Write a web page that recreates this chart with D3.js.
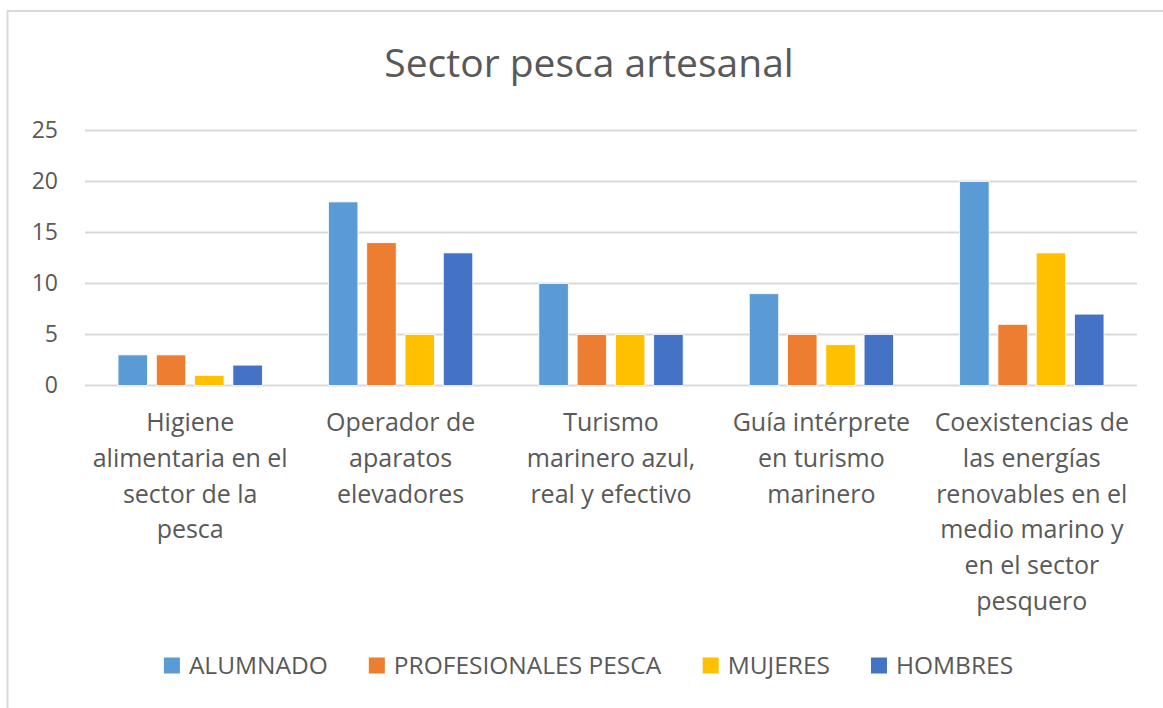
<!DOCTYPE html>
<html>
<head>
<meta charset="utf-8">
<script src="https://d3js.org/d3.v7.min.js"></script>
<style>
  body { margin: 0; background: #fff; }
  text { font-family: "Open Sans", Lato, sans-serif; fill: #595959; }
</style>
</head>
<body>
<div id="chart"></div>
<script>
// data
var categories = [
  "Higiene\nalimentaria en el\nsector de la\npesca",
  "Operador de\naparatos\nelevadores",
  "Turismo\nmarinero azul,\nreal y efectivo",
  "Guía intérprete\nen turismo\nmarinero",
  "Coexistencias de\nlas energías\nrenovables en el\nmedio marino y\nen el sector\npesquero"
];
var seriesNames = ["ALUMNADO", "PROFESIONALES PESCA", "MUJERES", "HOMBRES"];
var alumnado = [3, 18, 10, 9, 20];
var profesionales = [3, 14, 5, 5, 6];
var mujeres = [1, 5, 5, 4, 13];
var hombres = [2, 13, 5, 5, 7];
var yTicks = [0, 5, 10, 15, 20, 25];
var colors = ["#5b9bd5", "#ed7d31", "#ffc000", "#4472c4"];

var values = [alumnado, profesionales, mujeres, hombres];
var W = 1163, H = 708;
var svg = d3.select("#chart").append("svg").attr("width", W).attr("height", H);

// chart frame
svg.append("rect")
  .attr("x", 7.5).attr("y", 11)
  .attr("width", W + 10).attr("height", H + 10)
  .attr("fill", "none").attr("stroke", "#d9d9d9").attr("stroke-width", 2);

svg.append("text")
  .attr("x", 589).attr("y", 77)
  .attr("text-anchor", "middle")
  .style("font-size", "39px")
  .text("Sector pesca artesanal");

var x0 = d3.scaleBand().domain(d3.range(categories.length))
  .range([85, 1137]).paddingInner(0.314).paddingOuter(0.157);
var x1 = d3.scaleBand().domain(d3.range(seriesNames.length))
  .range([0, x0.bandwidth()]).paddingInner(0.23);
var y = d3.scaleLinear().domain([0, 25]).range([385.5, 130.5]);

// gridlines
svg.append("g").selectAll("line").data(yTicks).join("line")
  .attr("x1", 85).attr("x2", 1137)
  .attr("y1", function(d) { return y(d); }).attr("y2", function(d) { return y(d); })
  .attr("stroke", "#d9d9d9").attr("stroke-width", 2);

// y axis labels
var yAxis = d3.axisLeft(y).tickValues(yTicks).tickSize(0).tickPadding(0);
var gy = svg.append("g").attr("transform", "translate(58,0)").call(yAxis);
gy.select(".domain").remove();
gy.selectAll("text").style("font-size", "23px").attr("fill", "#595959")
  .style("font-family", "'Open Sans', Lato, sans-serif");

// bars
var groups = svg.append("g").selectAll("g").data(categories).join("g")
  .attr("transform", function(d, i) { return "translate(" + x0(i) + ",0)"; });
groups.selectAll("rect")
  .data(function(d, i) { return values.map(function(s, j) { return { s: j, v: s[i] }; }); })
  .join("rect")
  .attr("x", function(d) { return x1(d.s); })
  .attr("width", x1.bandwidth())
  .attr("y", function(d) { return y(d.v); })
  .attr("height", function(d) { return y(0) - y(d.v); })
  .attr("fill", function(d) { return colors[d.s]; })
  .attr("stroke", "#fff").attr("stroke-width", 0.8);

// category labels
var lab = svg.append("g").selectAll("text").data(categories).join("text")
  .attr("text-anchor", "middle")
  .attr("x", function(d, i) { return x0(i) + x0.bandwidth() / 2; })
  .attr("y", 431)
  .style("font-size", "25px");
lab.each(function(d, i) {
  var t = d3.select(this);
  d.split("\n").forEach(function(line, k) {
    t.append("tspan")
      .attr("x", x0(i) + x0.bandwidth() / 2)
      .attr("dy", k === 0 ? 0 : 35.8)
      .text(line);
  });
});

// legend
var leg = svg.append("g");
var items = leg.selectAll("g").data(seriesNames).join("g");
items.append("rect").attr("width", 16).attr("height", 16).attr("y", 657.5)
  .attr("fill", function(d, i) { return colors[i]; });
items.append("text").attr("x", 25).attr("y", 674)
  .style("font-size", "24.5px").text(function(d) { return d; });
var pos = 0, offs = [];
items.each(function() {
  offs.push(pos);
  pos += this.getBBox().width + 41;
});
pos -= 41;
var start = 588.5 - pos / 2;
items.attr("transform", function(d, i) { return "translate(" + (start + offs[i]) + ",0)"; });
</script>
</body>
</html>
